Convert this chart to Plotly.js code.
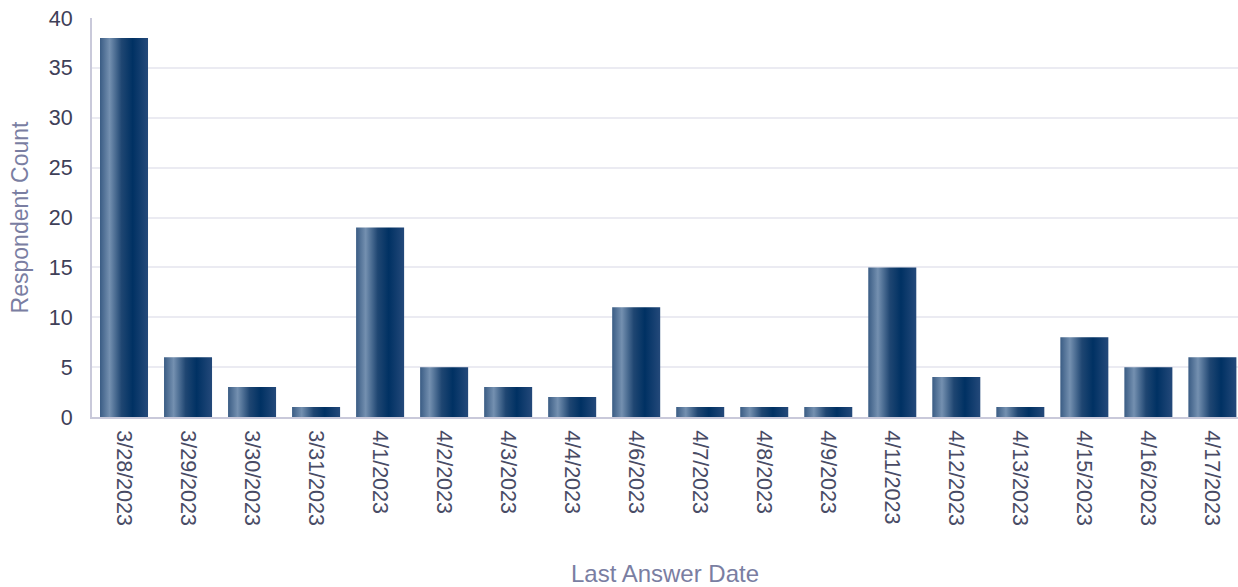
<!DOCTYPE html>
<html>
<head>
<meta charset="utf-8">
<script src="https://cdn.plot.ly/plotly-3.0.1.min.js"></script>
<style>
html,body{margin:0;padding:0;overflow:hidden;background:#fff;}
#chart{width:1238px;height:587px;}
</style>
</head>
<body>
<div id="chart"></div>
<script>
const categories = ["3/28/2023","3/29/2023","3/30/2023","3/31/2023","4/1/2023","4/2/2023","4/3/2023","4/4/2023","4/6/2023","4/7/2023","4/8/2023","4/9/2023","4/11/2023","4/12/2023","4/13/2023","4/15/2023","4/16/2023","4/17/2023"];
const respondentCounts = [38, 6, 3, 1, 19, 5, 3, 2, 11, 1, 1, 1, 15, 4, 1, 8, 5, 6];
const yTickValues = [0, 5, 10, 15, 20, 25, 30, 35, 40];

const fontFamily = "Liberation Sans, Arial, Helvetica, sans-serif";

const trace = {
  type: "bar",
  x: categories,
  y: respondentCounts,
  marker: {color: "#1c4470", line: {width: 0}},
  hoverinfo: "x+y"
};

const layout = {
  width: 1238,
  height: 587,
  margin: {l: 92, r: 0, t: 18, b: 170, pad: 0},
  paper_bgcolor: "#ffffff",
  plot_bgcolor: "#ffffff",
  bargap: 0.25,
  showlegend: false,
  font: {family: fontFamily},
  xaxis: {
    type: "category",
    range: [-0.5, 17.4],
    tickangle: 90,
    tickfont: {size: 21.5, color: "#484b65", family: fontFamily},
    showgrid: false,
    showline: true,
    linecolor: "#c9c9da",
    linewidth: 2,
    ticks: "",
    ticklabelstandoff: 7,
    automargin: false,
    title: {text: "Last Answer Date", font: {size: 24, color: "#7a7ea2", family: fontFamily}, standoff: 52}
  },
  yaxis: {
    range: [0, 40],
    tickvals: yTickValues,
    ticktext: yTickValues.map(String),
    tickfont: {size: 21.5, color: "#3e4058", family: fontFamily},
    showgrid: true,
    gridcolor: "#ebebf2",
    gridwidth: 2,
    showline: true,
    linecolor: "#c9c9da",
    linewidth: 2,
    zeroline: false,
    ticks: "",
    ticklabelstandoff: 13,
    automargin: false,
    title: {text: "Respondent Count", font: {size: 23, color: "#7a7ea2", family: fontFamily}, standoff: 14}
  }
};

Plotly.newPlot("chart", [trace], layout, {displayModeBar: false, staticPlot: true}).then(function(gd){
  const svg = gd.querySelector("svg.main-svg");
  const ns = "http://www.w3.org/2000/svg";
  let defs = svg.querySelector("defs");
  if (!defs) { defs = document.createElementNS(ns, "defs"); svg.insertBefore(defs, svg.firstChild); }
  const grad = document.createElementNS(ns, "linearGradient");
  grad.setAttribute("id", "barGrad");
  grad.setAttribute("x1", "0"); grad.setAttribute("y1", "0");
  grad.setAttribute("x2", "1"); grad.setAttribute("y2", "0");
  const stops = [[0, "#3a5c84"], [0.2, "#7490b0"], [0.45, "#1f4672"], [0.68, "#003163"], [1, "#24497a"]];
  stops.forEach(function(s){
    const st = document.createElementNS(ns, "stop");
    st.setAttribute("offset", s[0]);
    st.setAttribute("stop-color", s[1]);
    grad.appendChild(st);
  });
  defs.appendChild(grad);
  gd.querySelectorAll(".barlayer .point path").forEach(function(p){
    p.style.fill = "url(#barGrad)";
  });
});
</script>
</body>
</html>
